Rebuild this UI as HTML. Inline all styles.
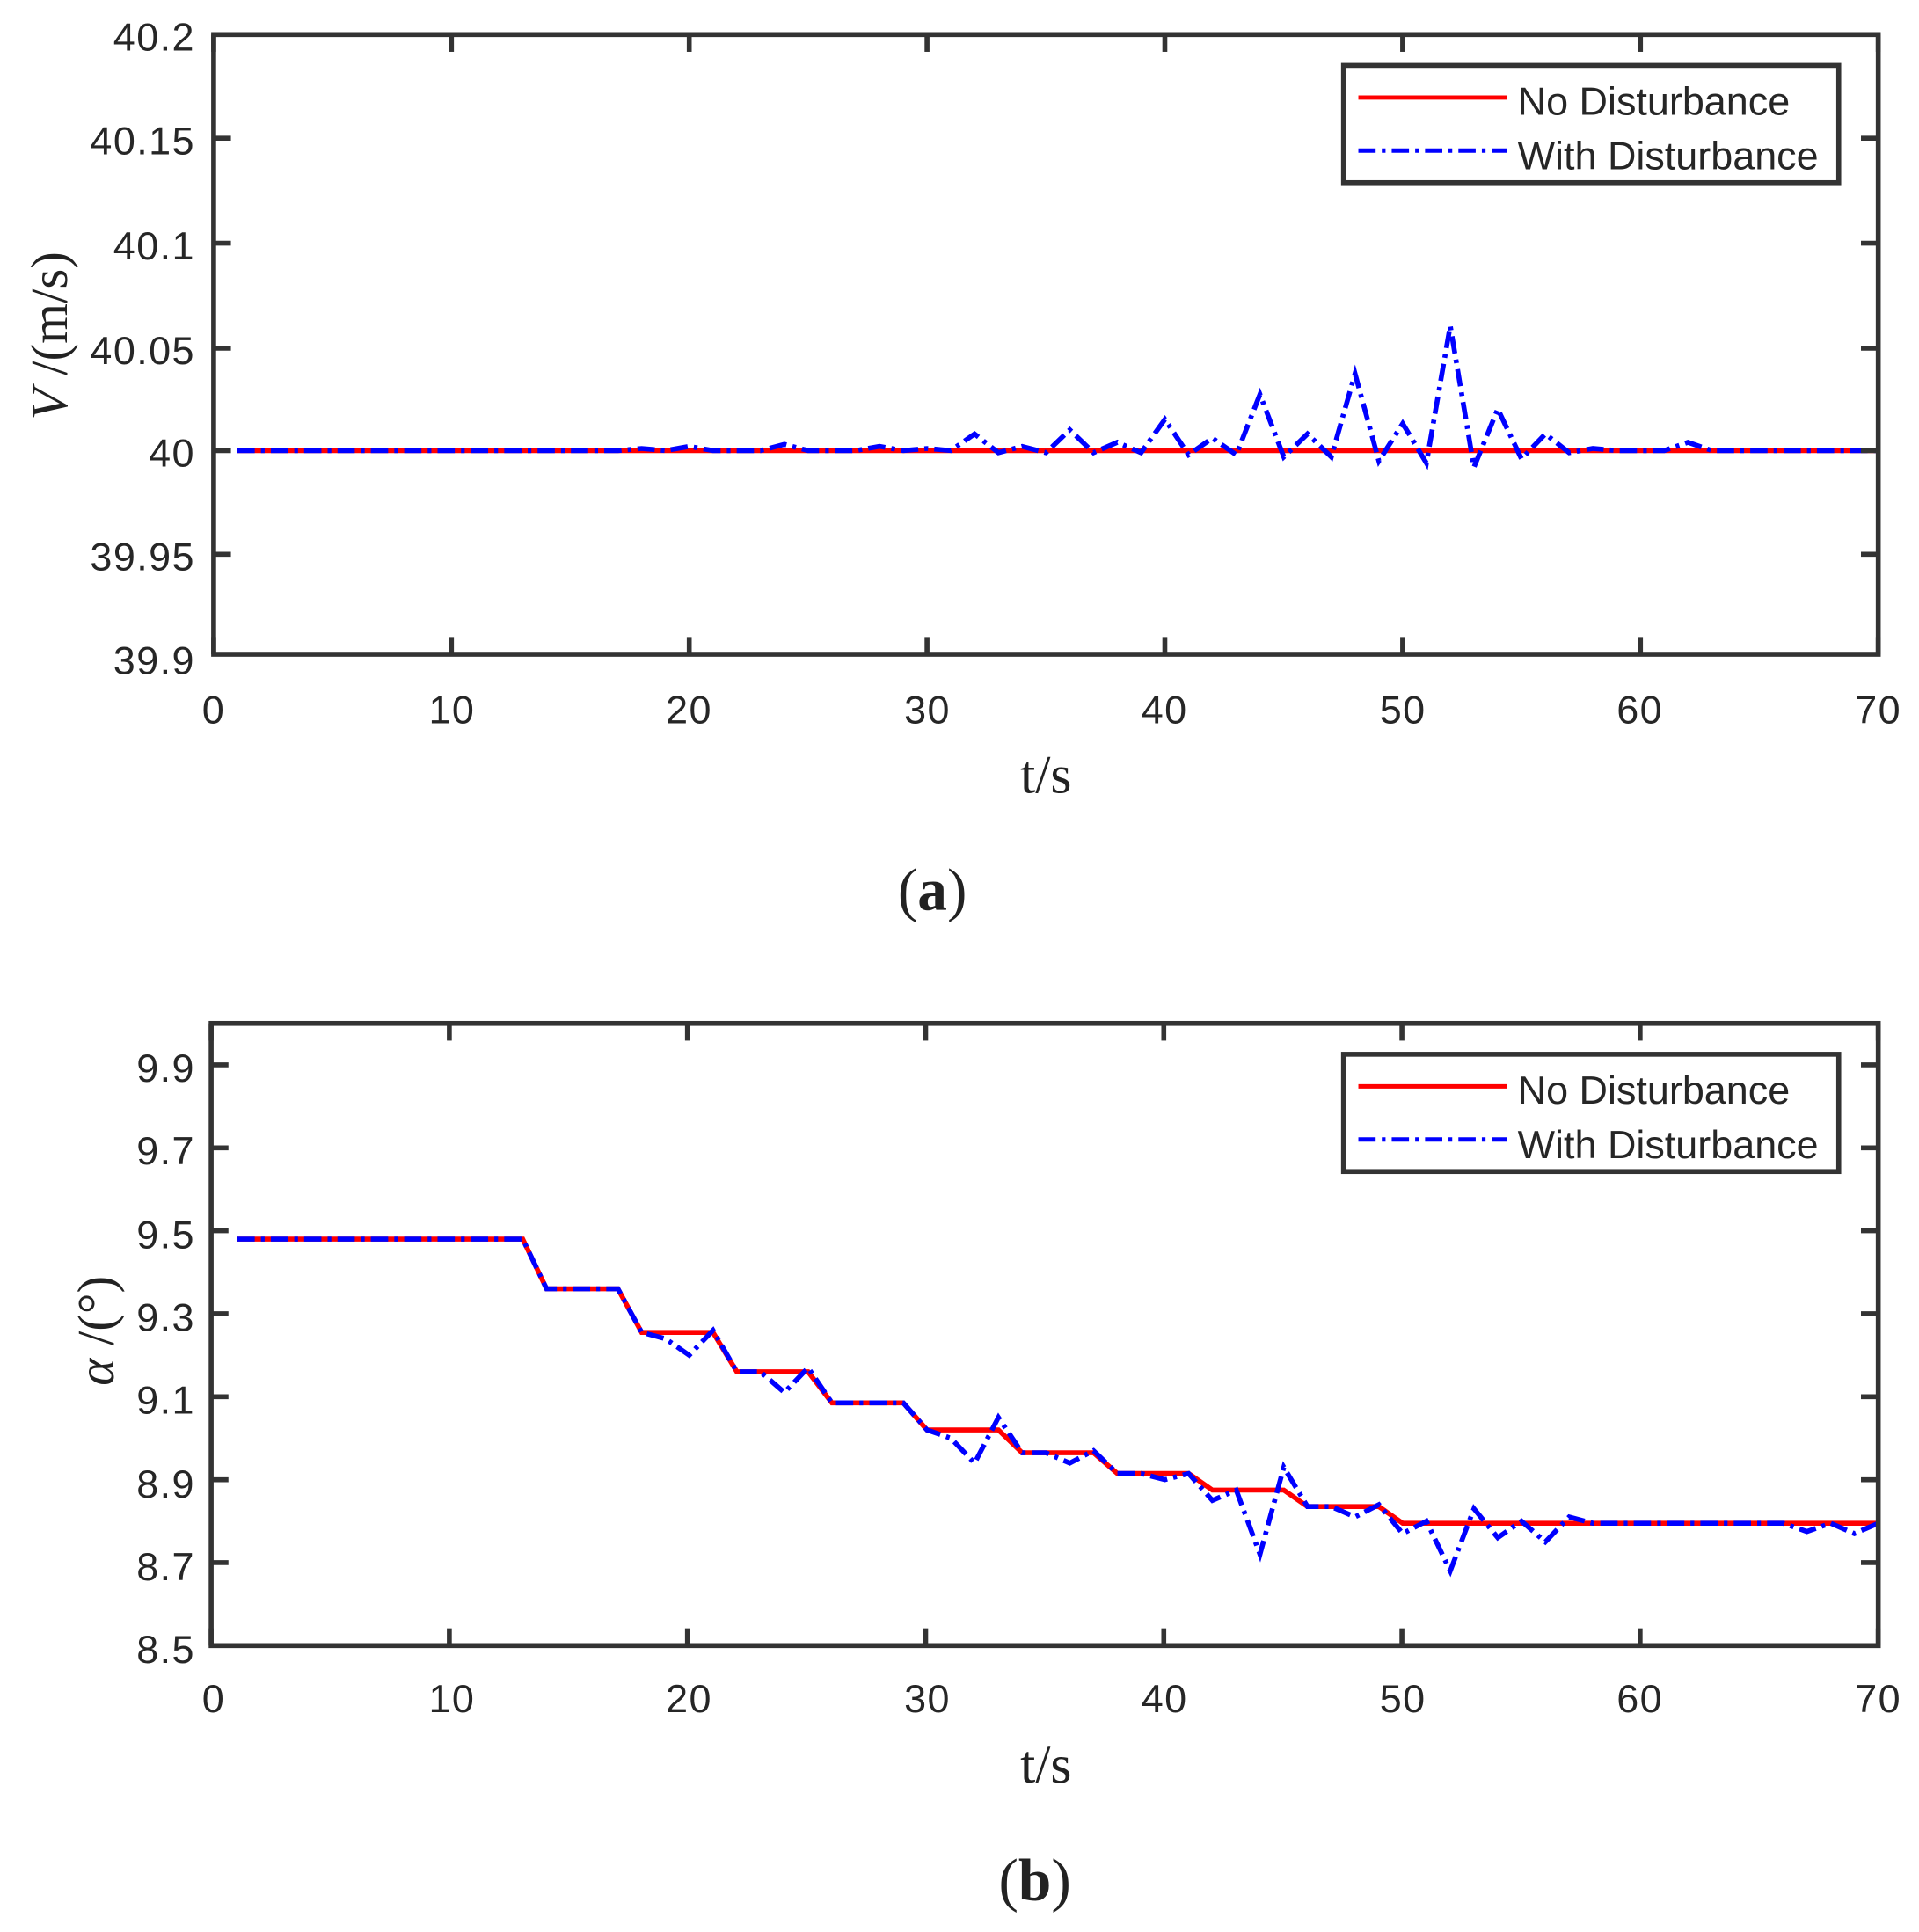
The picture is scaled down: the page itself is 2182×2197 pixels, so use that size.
<!DOCTYPE html>
<html><head><meta charset="utf-8"><style>
html,body{margin:0;padding:0;background:#fff;}
svg{display:block}
text{font-family:"Liberation Sans",sans-serif;fill:#262626}
.serif{font-family:"Liberation Serif",serif;fill:#222}
</style></head><body>
<svg id="s" width="2182" height="2197" viewBox="0 0 1554 1565" preserveAspectRatio="none" xmlns="http://www.w3.org/2000/svg">
<rect width="1554" height="1565" fill="#fff"/>
<g id="a"></g>
<g id="b"></g>
<g font-size="32" text-anchor="end" letter-spacing="1">
<text x="158" y="41">40.2</text>
<text x="158" y="125">40.15</text>
<text x="158" y="210">40.1</text>
<text x="158" y="295">40.05</text>
<text x="158" y="378">40</text>
<text x="158" y="462">39.95</text>
<text x="158" y="546">39.9</text>
</g>
<g font-size="32" text-anchor="middle" letter-spacing="1">
<text x="173" y="586">0</text><text x="366" y="586">10</text><text x="558" y="586">20</text><text x="751" y="586">30</text><text x="943" y="586">40</text><text x="1136" y="586">50</text><text x="1328" y="586">60</text><text x="1521" y="586">70</text>
</g>
<text class="serif" x="847" y="642" font-size="44" text-anchor="middle">t/s</text>
<text class="serif" x="54" y="272" font-size="42" text-anchor="middle" transform="rotate(-90 54 272)"><tspan font-style="italic">V</tspan>  /(m/s)</text>
<text class="serif" x="755" y="737" font-size="48" text-anchor="middle">(<tspan font-weight="bold">a</tspan>)</text>
<g font-size="32" text-anchor="end" letter-spacing="1">
<text x="158" y="876">9.9</text>
<text x="158" y="943">9.7</text>
<text x="158" y="1011">9.5</text>
<text x="158" y="1078">9.3</text>
<text x="158" y="1145">9.1</text>
<text x="158" y="1213">8.9</text>
<text x="158" y="1280">8.7</text>
<text x="158" y="1347">8.5</text>
</g>
<g font-size="32" text-anchor="middle" letter-spacing="1">
<text x="173" y="1387">0</text><text x="366" y="1387">10</text><text x="558" y="1387">20</text><text x="751" y="1387">30</text><text x="943" y="1387">40</text><text x="1136" y="1387">50</text><text x="1328" y="1387">60</text><text x="1521" y="1387">70</text>
</g>
<text class="serif" x="847" y="1444" font-size="44" text-anchor="middle">t/s</text>
<text class="serif" x="92" y="1078" font-size="42" text-anchor="middle" transform="rotate(-90 92 1078)"><tspan font-style="italic">α</tspan>   /(°)</text>
<text class="serif" x="838" y="1539" font-size="48" text-anchor="middle">(<tspan font-weight="bold">b</tspan>)</text>
</svg>
<script>
var NS="http://www.w3.org/2000/svg";
function el(p,t,a){var e=document.createElementNS(NS,t);for(var k in a)e.setAttribute(k,a[k]);p.appendChild(e);return e;}
function axes(g,L,R,T,B,yt){
  for(var i=0;i<=7;i++){var x=L+(R-L)*i/7;
    el(g,'line',{x1:x,y1:T,x2:x,y2:T+14,stroke:'#333','stroke-width':4});
    el(g,'line',{x1:x,y1:B,x2:x,y2:B-14,stroke:'#333','stroke-width':4});}
  yt.forEach(function(y){
    el(g,'line',{x1:L,y1:y,x2:L+14,y2:y,stroke:'#333','stroke-width':4});
    el(g,'line',{x1:R,y1:y,x2:R-14,y2:y,stroke:'#333','stroke-width':4});});
  el(g,'rect',{x:L,y:T,width:R-L,height:B-T,fill:'none',stroke:'#333','stroke-width':4});
}
function legend(g,y0){
  el(g,'rect',{x:1088,y:y0,width:401,height:95,fill:'#fff',stroke:'#333','stroke-width':4});
  el(g,'line',{x1:1100,y1:y0+26,x2:1220,y2:y0+26,stroke:'#f00','stroke-width':3.5});
  el(g,'line',{x1:1100,y1:y0+69,x2:1220,y2:y0+69,stroke:'#00f','stroke-width':3.5,'stroke-dasharray':'14 5 3 5'});
  var t=el(g,'text',{x:1229,y:y0+40,'font-size':32});t.textContent='No Disturbance';
  t=el(g,'text',{x:1229,y:y0+84,'font-size':32});t.textContent='With Disturbance';
}
function path(pts,fx,fy){return pts.map(function(p,i){return (i?'L':'M')+fx(p[0]).toFixed(1)+' '+fy(p[1]).toFixed(1);}).join(' ');}
var fx=function(t){return 173+t*(1521-173)/70;};
var ga=document.getElementById('a');
var dev={18:40.001,20:40.002,24:40.003,28:40.002,30:40.001,32:40.008,33:39.999,34:40.002,35:39.999,36:40.01,37:39.999,38:40.004,39:39.999,40:40.015,41:39.998,42:40.006,43:39.998,44:40.027,45:39.997,46:40.008,47:39.997,48:40.037,49:39.995,50:40.013,51:39.994,52:40.06,53:39.992,54:40.02,55:39.996,56:40.008,57:39.999,58:40.001,62:40.004};
var fya=function(v){return 365-(v-40)*1685;};
var blueA=[];for(var t=1;t<=70;t++)blueA.push([t,dev[t]!==undefined?dev[t]:40]);
el(ga,'path',{d:path([[1,40],[70,40]],fx,fya),stroke:'#f00','stroke-width':4,fill:'none'});
el(ga,'path',{d:path(blueA,fx,fya),stroke:'#00f','stroke-width':4,fill:'none','stroke-dasharray':'14 5 3 5'});
axes(ga,173,1521,28,530,[112,197,282,365,449]);
legend(ga,53);
var gb=document.getElementById('b');
var fyb=function(a){return 1333-(a-8.5)*336;};
var lv=[[1,13,9.48],[14,17,9.36],[18,21,9.255],[22,25,9.16],[26,29,9.085],[30,33,9.02],[34,37,8.965],[38,41,8.915],[42,45,8.875],[46,49,8.835],[50,70,8.795]];
var red=[];var base={};
lv.forEach(function(s){red.push([s[0],s[2]]);red.push([s[1],s[2]]);for(var t=s[0];t<=s[1];t++)base[t]=s[2];});
var bd={19:9.24,20:9.2,21:9.26,24:9.11,25:9.17,31:9.0,32:8.94,33:9.05,36:8.94,37:8.97,40:8.9,42:8.85,44:8.72,45:8.93,48:8.81,49:8.84,50:8.77,51:8.80,52:8.68,53:8.83,54:8.76,55:8.80,56:8.75,57:8.81,67:8.775,69:8.77};
var blueB=[];for(var t=1;t<=70;t++)blueB.push([t,bd[t]!==undefined?bd[t]:base[t]]);
el(gb,'path',{d:path(red,fx,fyb),stroke:'#f00','stroke-width':4,fill:'none'});
el(gb,'path',{d:path(blueB,fx,fyb),stroke:'#00f','stroke-width':4,fill:'none','stroke-dasharray':'14 5 3 5'});
var yt=[];[9.9,9.7,9.5,9.3,9.1,8.9,8.7].forEach(function(v){yt.push(fyb(v));});
axes(gb,171,1521,829,1333,yt);
legend(gb,854);
</script>
</body></html>
